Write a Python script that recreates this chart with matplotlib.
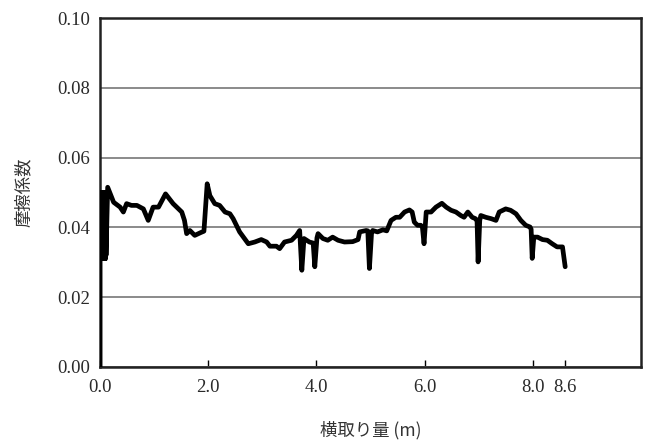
import matplotlib
matplotlib.use("Agg")
import matplotlib.pyplot as plt

plt.rcParams['font.family'] = ['Liberation Serif', 'Noto Sans CJK JP', 'DejaVu Sans']

# Data (distance in m, friction coefficient)
distance = [0.00, 0.00, 0.005, 0.01, 0.015, 0.02, 0.025, 0.03, 0.035, 0.04, 0.045, 0.05,
            0.055, 0.06, 0.065, 0.07, 0.075, 0.08, 0.085, 0.09, 0.095, 0.10, 0.105, 0.11,
            0.14, 0.25, 0.37, 0.43, 0.49, 0.58, 0.68, 0.80, 0.89, 0.98, 1.08, 1.21,
            1.35, 1.51, 1.56, 1.60, 1.66, 1.75, 1.86, 1.92, 1.98, 2.03, 2.12, 2.21,
            2.31, 2.40, 2.46, 2.58, 2.74, 2.86, 2.98, 3.08, 3.14, 3.26, 3.32, 3.41,
            3.54, 3.63, 3.69, 3.73, 3.77, 3.87, 3.94, 3.97, 4.01, 4.03, 4.12, 4.21,
            4.30, 4.40, 4.52, 4.67, 4.77, 4.80, 4.92, 4.95, 4.98, 5.02, 5.04, 5.13,
            5.23, 5.30, 5.38, 5.47, 5.54, 5.63, 5.72, 5.77, 5.81, 5.87, 5.93, 5.96,
            5.99, 6.02, 6.03, 6.12, 6.21, 6.32, 6.40, 6.49, 6.58, 6.67, 6.73, 6.80,
            6.88, 6.94, 6.97, 6.99, 7.02, 7.04, 7.13, 7.23, 7.32, 7.38, 7.50, 7.59,
            7.69, 7.78, 7.87, 7.95, 7.97, 7.99, 8.02, 8.09, 8.18, 8.27, 8.36, 8.45,
            8.55, 8.60]
friction = [0.000, 0.030, 0.050, 0.031, 0.050, 0.031, 0.050, 0.031, 0.050, 0.031, 0.050, 0.031,
            0.050, 0.031, 0.050, 0.031, 0.050, 0.031, 0.050, 0.031, 0.050, 0.031, 0.049, 0.032,
            0.0515, 0.0472, 0.0458, 0.0444, 0.0468, 0.0463, 0.0463, 0.0453, 0.0420, 0.0458, 0.0458, 0.0496,
            0.0468, 0.0444, 0.0420, 0.0382, 0.0391, 0.0377, 0.0385, 0.0389, 0.0525, 0.0491, 0.0468, 0.0463,
            0.0444, 0.0439, 0.0425, 0.0387, 0.0353, 0.0358, 0.0365, 0.0358, 0.0346, 0.0346, 0.0339, 0.0358,
            0.0363, 0.0377, 0.0391, 0.0277, 0.0368, 0.0358, 0.0355, 0.0287, 0.0370, 0.0382, 0.0368, 0.0363,
            0.0372, 0.0363, 0.0358, 0.0359, 0.0365, 0.0387, 0.0391, 0.0390, 0.0282, 0.0385, 0.0391, 0.0387,
            0.0393, 0.0390, 0.0420, 0.0429, 0.0429, 0.0444, 0.0450, 0.0444, 0.0415, 0.0406, 0.0406, 0.0400,
            0.0353, 0.0420, 0.0444, 0.0444, 0.0458, 0.0469, 0.0458, 0.0449, 0.0444, 0.0434, 0.0429, 0.0444,
            0.0429, 0.0425, 0.0420, 0.0301, 0.0420, 0.0434, 0.0429, 0.0425, 0.0420, 0.0444, 0.0453, 0.0449,
            0.0439, 0.0420, 0.0406, 0.0401, 0.0395, 0.0311, 0.0372, 0.0372, 0.0365, 0.0363, 0.0353, 0.0344,
            0.0344, 0.0287]

x_ticks = [0.0, 2.0, 4.0, 6.0, 8.0, 8.6]
x_tick_labels = ["0.0", "2.0", "4.0", "6.0", "8.0", "8.6"]
y_ticks = [0.00, 0.02, 0.04, 0.06, 0.08, 0.10]
y_tick_labels = ["0.00", "0.02", "0.04", "0.06", "0.08", "0.10"]

fig = plt.figure(figsize=(6.5, 4.42), dpi=100)
ax = fig.add_axes([0.154, 0.170, 0.832, 0.789])

ax.plot(distance, friction, color='black', linewidth=3.4, solid_joinstyle='round',
        solid_capstyle='round', zorder=3)

ax.set_xlim(0, 10)
ax.set_ylim(0, 0.10)
ax.set_xticks(x_ticks)
ax.set_xticklabels(x_tick_labels, fontsize=13.5, color='#2a2a2a')
ax.set_yticks(y_ticks)
ax.set_yticklabels(y_tick_labels, fontsize=13.5, color='#2a2a2a')

ax.yaxis.grid(True, color='#8a8a8a', linewidth=1.4)
ax.set_axisbelow(True)
ax.tick_params(axis='x', direction='in', length=5, width=1, pad=9)
ax.tick_params(axis='y', length=0, pad=7)

for s in ax.spines.values():
    s.set_linewidth(1.8)
    s.set_color('#222222')

ax.set_xlabel("横取り量 (m)", fontsize=12.5, family=['Noto Sans CJK JP', 'DejaVu Sans'],
              labelpad=18, color='#333333')
ax.set_ylabel("摩擦係数", fontsize=12.5, family=['Noto Sans CJK JP', 'DejaVu Sans'],
              labelpad=18, color='#333333')

fig.savefig("out.png", dpi=100)
